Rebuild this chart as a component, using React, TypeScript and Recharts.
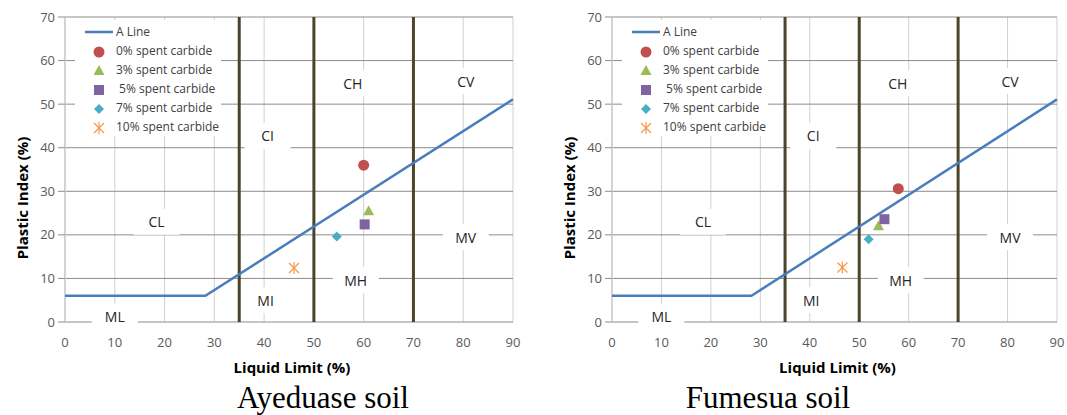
import React from "react";
import {
  ComposedChart,
  Scatter,
  XAxis,
  YAxis,
  CartesianGrid,
  ReferenceLine,
  Legend,
  Label,
} from "recharts";

const xTicks = [0, 10, 20, 30, 40, 50, 60, 70, 80, 90];
const yTicks = [0, 10, 20, 30, 40, 50, 60, 70];

// A line: PI = 6 up to the bend, then 0.73 (LL - 20)
const aLineLL = [0, 28.2, 90];
const aLinePI = [6, 6, 51.1];

const boundaryLL = [35, 50, 70];

const zoneNames = ["CL", "ML", "MI", "MH", "MV", "CI", "CH", "CV"];
const zoneLL = [18.4, 10, 40.3, 58.4, 80.5, 40.7, 57.8, 80.5];
const zonePI = [23, 1.2, 5, 9.6, 19.5, 42.7, 54.8, 55.3];

const seriesNames = [
  "0% spent carbide",
  "3% spent carbide",
  " 5% spent carbide",
  "7% spent carbide",
  "10% spent carbide",
];
const seriesColors = ["#c0504d", "#9bbb59", "#8064a2", "#4bacc6", "#f79646"];
const seriesShapes = ["circle", "triangle", "square", "diamond", "asterisk"];

const ayeduaseLL = [60, 61, 60.2, 54.6, 46];
const ayeduasePI = [36, 25.4, 22.4, 19.6, 12.4];

const fumesuaLL = [57.9, 53.9, 55.1, 51.9, 46.6];
const fumesuaPI = [30.6, 22, 23.6, 19, 12.5];

const FONT = "'Open Sans', 'Noto Sans', sans-serif";

const drawMarker = (kind: string, cx: number, cy: number, color: string) => {
  switch (kind) {
    case "circle":
      return <circle cx={cx} cy={cy} r={5.5} fill={color} />;
    case "triangle":
      return (
        <polygon
          points={`${cx},${cy - 6} ${cx + 5.5},${cy + 4} ${cx - 5.5},${cy + 4}`}
          fill={color}
        />
      );
    case "square":
      return <rect x={cx - 5} y={cy - 5} width={10} height={10} fill={color} />;
    case "diamond":
      return (
        <polygon
          points={`${cx},${cy - 5} ${cx + 5},${cy} ${cx},${cy + 5} ${cx - 5},${cy}`}
          fill={color}
        />
      );
    default:
      return (
        <g stroke={color} strokeWidth={1.2}>
          <line x1={cx - 5} y1={cy - 5} x2={cx + 5} y2={cy + 5} />
          <line x1={cx - 5} y1={cy + 5} x2={cx + 5} y2={cy - 5} />
          <line x1={cx} y1={cy - 6} x2={cx} y2={cy + 6} />
        </g>
      );
  }
};

const LegendBox = () => (
  <div
    style={{
      background: "#fff",
      width: 146,
      height: 116,
      position: "relative",
      fontFamily: FONT,
      fontSize: 12,
      color: "#404040",
    }}
  >
    <svg width={146} height={116} style={{ position: "absolute", left: 0, top: 0 }}>
      <line x1={10} y1={12} x2={38} y2={12} stroke="#4a7ebb" strokeWidth={2.5} />
      {seriesShapes.map((s, i) => (
        <g key={s}>{drawMarker(s, 24, 32 + i * 19, seriesColors[i])}</g>
      ))}
    </svg>
    {["A Line", ...seriesNames].map((n, i) => (
      <div
        key={n}
        style={{
          position: "absolute",
          left: 41,
          top: 12 + i * 19 - 9,
          height: 18,
          lineHeight: "18px",
          whiteSpace: "pre",
        }}
      >
        {n}
      </div>
    ))}
  </div>
);

interface SoilChartProps {
  width: number;
  marginLeft: number;
  marginRight: number;
  ll: number[];
  pi: number[];
}

const SoilChart = ({ width, marginLeft, marginRight, ll, pi }: SoilChartProps) => {
  const aLine = aLineLL.map((x, i) => ({ x, y: aLinePI[i] }));
  const zones = zoneNames.map((name, i) => ({ x: zoneLL[i], y: zonePI[i], name }));
  const plotLeft = marginLeft + 40;

  return (
    <ComposedChart
      width={width}
      height={378}
      margin={{ top: 17, right: marginRight, left: marginLeft, bottom: 0 }}
    >
      <CartesianGrid horizontal={false} stroke="#d0d0d0" />
      <CartesianGrid vertical={false} stroke="#8c8c8c" />
      <XAxis
        type="number"
        dataKey="x"
        domain={[0, 90]}
        ticks={xTicks}
        height={56}
        axisLine={false}
        tickLine={false}
        tickMargin={10}
        tick={{ fill: "#595959", fontSize: 13, fontFamily: FONT }}
      >
        <Label
          content={({ viewBox }: any) => (
            <text
              x={viewBox.x + viewBox.width / 2 + 3}
              y={373}
              textAnchor="middle"
              fontFamily={FONT}
              fontWeight="bold"
              fontSize={15}
              fill="#000"
            >
              Liquid Limit (%)
            </text>
          )}
        />
      </XAxis>
      <YAxis
        type="number"
        dataKey="y"
        domain={[0, 70]}
        ticks={yTicks}
        width={40}
        tickSize={7}
        tickMargin={3}
        axisLine={{ stroke: "#d4d4d4", strokeWidth: 2 }}
        tickLine={{ stroke: "#8c8c8c" }}
        tick={{ fill: "#595959", fontSize: 13, fontFamily: FONT }}
      >
        <Label
          content={({ viewBox }: any) => {
            const x = viewBox.x - 3;
            const y = 198;
            return (
              <text
                x={x}
                y={y}
                transform={`rotate(-90 ${x} ${y})`}
                textAnchor="middle"
                dominantBaseline="central"
                fontFamily={FONT}
                fontWeight="bold"
                fontSize={15}
                fill="#000"
              >
                Plastic Index (%)
              </text>
            );
          }}
        />
      </YAxis>
      <Scatter
        data={zones}
        isAnimationActive={false}
        shape={(p: any) => (
          <g>
            <rect x={p.cx - 23} y={p.cy - 13} width={46} height={26} fill="#fff" />
            <text
              x={p.cx}
              y={p.cy}
              textAnchor="middle"
              dominantBaseline="central"
              fontFamily={FONT}
              fontSize={14}
              fill="#262626"
            >
              {p.payload.name}
            </text>
          </g>
        )}
      />
      {boundaryLL.map((x) => (
        <ReferenceLine key={x} x={x} stroke="#4a452a" strokeWidth={3} />
      ))}
      <Scatter
        data={aLine}
        isAnimationActive={false}
        line={{ stroke: "#4a7ebb", strokeWidth: 2.5 }}
        shape={() => <g />}
      />
      {seriesNames.map((n, i) => (
        <Scatter
          key={n}
          name={n}
          data={[{ x: ll[i], y: pi[i] }]}
          isAnimationActive={false}
          shape={(p: any) => drawMarker(seriesShapes[i], p.cx, p.cy, seriesColors[i])}
        />
      ))}
      <Legend
        layout="vertical"
        align="center"
        verticalAlign="middle"
        wrapperStyle={{ left: plotLeft + 10, top: 20, width: 146 }}
        content={() => <LegendBox />}
      />
    </ComposedChart>
  );
};

const captionStyle: React.CSSProperties = {
  position: "absolute",
  top: 382,
  width: 260,
  textAlign: "center",
  fontFamily: "'Liberation Serif', 'Times New Roman', serif",
  fontSize: 31,
  lineHeight: "31px",
  color: "#000",
};

export default function App() {
  return (
    <div
      style={{
        position: "absolute",
        left: 0,
        top: 0,
        width: 1067,
        height: 415,
        background: "#fff",
        overflow: "hidden",
      }}
    >
      <div style={{ position: "absolute", left: 0, top: 0 }}>
        <SoilChart width={533} marginLeft={25} marginRight={20} ll={ayeduaseLL} pi={ayeduasePI} />
      </div>
      <div style={{ position: "absolute", left: 533, top: 0 }}>
        <SoilChart width={534} marginLeft={39} marginRight={10} ll={fumesuaLL} pi={fumesuaPI} />
      </div>
      <div style={{ ...captionStyle, left: 323 - 130 }}>Ayeduase soil</div>
      <div style={{ ...captionStyle, left: 768 - 130 }}>Fumesua soil</div>
    </div>
  );
}
